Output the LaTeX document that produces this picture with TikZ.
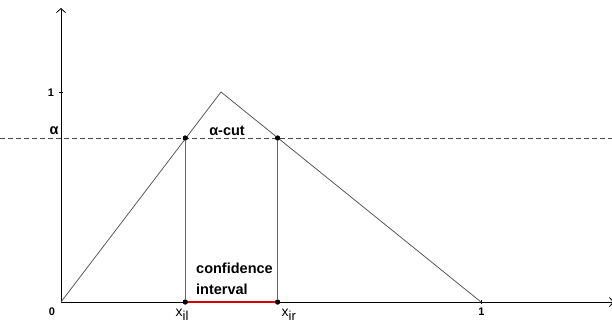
\documentclass[tikz,border=0pt]{standalone}
\usepackage{fontspec}
\setmainfont{Liberation Sans}
\usetikzlibrary{arrows.meta}
\begin{document}
\begin{tikzpicture}[x=1pt,y=-1pt,
  axis/.style={line width=0.8pt,black},
  curve/.style={line width=0.8pt,black!65},
  guide/.style={line width=0.7pt,black!60},
  cutline/.style={line width=0.8pt,black!70,dash pattern=on 5pt off 3pt},
  interval/.style={line width=1.6pt,red!85!black},
  pt/.style={circle,fill=black,inner sep=0pt,minimum size=5pt},
  lbl/.style={font=\fontsize{14.5}{16}\selectfont\bfseries,inner sep=0pt},
  tick/.style={font=\fontsize{11}{12}\selectfont\bfseries,inner sep=0pt},
  xlbl/.style={font=\fontsize{14}{16}\selectfont,inner sep=0pt}]
\useasboundingbox (0,0) rectangle (612,322);
\coordinate (O) at (61,302);
\coordinate (Ytop) at (61,8);
\coordinate (Xend) at (614,302);
\coordinate (P) at (221,92);
\coordinate (R) at (481,302);
\coordinate (L0) at (0,138);
\coordinate (L1) at (612,138);
\node[pt] (A) at (185.3,138) {};
\node[pt] (B) at (277.6,138) {};
\node[pt] (C) at (185.3,302) {};
\node[pt] (D) at (277.6,302) {};
% axes
\draw[axis,-{Straight Barb[length=4pt,width=9pt]}] (O) -- (Ytop);
\draw[axis,-{Straight Barb[length=4pt,width=9pt]}] (O) -- (Xend);
\draw[axis,line width=0.6pt] (59,92) -- (63,92);
\draw[axis,line width=0.6pt] (481,300) -- (481,304);
% dashed alpha line
\draw[cutline] (L0) -- (L1);
% triangle
\draw[curve] (O) -- (P) -- (R);
% verticals
\draw[guide] (A) -- (C);
\draw[guide] (B) -- (D);
\draw[interval] (C) -- (D);
\node[pt] at (A) {};
\node[pt] at (B) {};
\node[pt] at (C) {};
\node[pt] at (D) {};
% labels
\node[tick] (t0) at (52,311.5) {0};
\node[tick] (t1y) at (51,93) {1};
\node[tick] (t1x) at (481.5,312) {1};
\node[lbl,anchor=base] (al) at (54,134) {α};
\node[lbl,anchor=base] (cut) at (227,135) {α-cut};
\node[lbl,anchor=base west] (conf) at (196,273) {confidence};
\node[lbl,anchor=base west] (intv) at (196,294) {interval};
\node[xlbl,anchor=base west] (xil) at (175.5,316) {x\textsubscript{\fontsize{13}{14}\selectfont il}};
\node[xlbl,anchor=base west] (xir) at (281.5,316) {x\textsubscript{\fontsize{13}{14}\selectfont ir}};
\end{tikzpicture}
\end{document}
